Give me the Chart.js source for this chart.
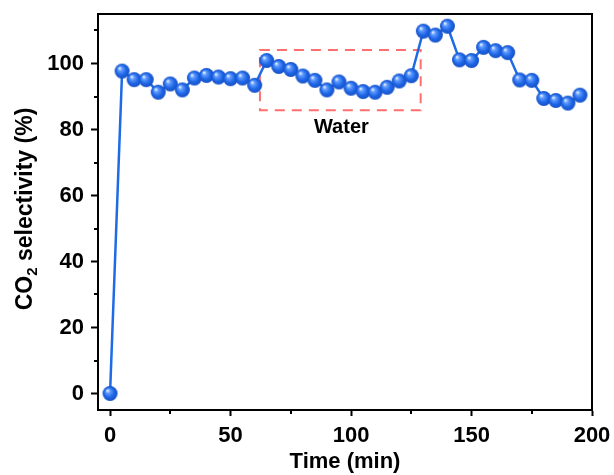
<!DOCTYPE html>
<html>
<head>
<meta charset="utf-8">
<script src="https://cdn.jsdelivr.net/npm/chart.js@4.4.1/dist/chart.umd.min.js"></script>
<style>
    html, body { margin: 0; padding: 0; background: #fff; }
    canvas { display: block; }
</style>
</head>
<body>
<canvas id="selectivityChart" width="614" height="475"></canvas>
<script>
// ---- data ----
const timeMin = [0, 5, 10, 15, 20, 25, 30, 35, 40, 45, 50, 55, 60, 65, 70, 75, 80, 85, 90, 95,
                 100, 105, 110, 115, 120, 125, 130, 135, 140, 145, 150, 155, 160, 165, 170, 175, 180, 185, 190, 195];
const selectivity = [0, 97.7, 95.1, 95.1, 91.3, 93.8, 92.0, 95.6, 96.4, 95.9, 95.4, 95.6, 93.4, 100.9, 99.1, 98.2, 96.2, 94.9, 92.0, 94.4,
                     92.5, 91.5, 91.3, 92.8, 94.7, 96.3, 109.8, 108.6, 111.3, 101.1, 100.9, 104.9, 103.9, 103.3, 95.0, 94.9, 89.4, 88.8, 88.0, 90.4];

const xTicks = [0, 50, 100, 150, 200];
const xMinorTicks = [25, 75, 125, 175];
const yTicks = [0, 20, 40, 60, 80, 100];
const yMinorTicks = [10, 30, 50, 70, 90, 110];

// dashed "Water" window
const waterBoxX = [62.2, 128.9];
const waterBoxY = [85.8, 104.1];
const waterLabel = 'Water';
const waterLabelAt = [96, 80.7];

const FONT = 'Arial, "Liberation Sans", sans-serif';

// shaded blue sphere used as marker
function makeSphere(r) {
    const c = document.createElement('canvas');
    c.width = c.height = r * 2 + 2;
    const g = c.getContext('2d');
    const cx = r + 1, cy = r + 1;
    const grad = g.createRadialGradient(cx - r * 0.35, cy - r * 0.4, r * 0.05, cx, cy, r);
    grad.addColorStop(0, '#e6f0ff');
    grad.addColorStop(0.25, '#5f9bff');
    grad.addColorStop(0.65, '#1f66e6');
    grad.addColorStop(1, '#1650c4');
    g.fillStyle = grad;
    g.beginPath();
    g.arc(cx, cy, r, 0, Math.PI * 2);
    g.fill();
    return c;
}

// keep the plot box fixed, whatever the label sizes ask for
function noPad(s) {
    s.paddingTop = 0; s.paddingBottom = 0; s.paddingLeft = 0; s.paddingRight = 0;
}

const frameAndExtras = {
    id: 'frameAndExtras',
    beforeDatasetsDraw(chart) {
        const { ctx, scales: { x, y } } = chart;
        ctx.save();
        ctx.strokeStyle = '#ff6f6f';
        ctx.lineWidth = 2;
        ctx.setLineDash([10, 7]);
        const l = x.getPixelForValue(waterBoxX[0]), r = x.getPixelForValue(waterBoxX[1]);
        const t = y.getPixelForValue(waterBoxY[1]), b = y.getPixelForValue(waterBoxY[0]);
        ctx.strokeRect(l, t, r - l, b - t);
        ctx.restore();
    },
    afterDraw(chart) {
        const { ctx, chartArea: a, scales: { x, y } } = chart;
        ctx.save();
        // box frame
        ctx.strokeStyle = '#000';
        ctx.lineWidth = 2;
        ctx.strokeRect(a.left, a.top, a.right - a.left, a.bottom - a.top);
        // minor ticks
        ctx.beginPath();
        xMinorTicks.forEach(v => {
            const px = Math.round(x.getPixelForValue(v));
            ctx.moveTo(px, a.bottom); ctx.lineTo(px, a.bottom + 4);
        });
        yMinorTicks.forEach(v => {
            const py = Math.round(y.getPixelForValue(v));
            ctx.moveTo(a.left, py); ctx.lineTo(a.left - 4, py);
        });
        ctx.stroke();

        // Water label
        ctx.fillStyle = '#000';
        ctx.font = 'bold 20px ' + FONT;
        ctx.textAlign = 'center';
        ctx.textBaseline = 'middle';
        ctx.fillText(waterLabel, x.getPixelForValue(waterLabelAt[0]), y.getPixelForValue(waterLabelAt[1]));

        // y title with subscript
        ctx.translate(26, (a.top + a.bottom) / 2 - 3);
        ctx.rotate(-Math.PI / 2);
        const main = 'CO', sub = '2', rest = ' selectivity (%)';
        const big = 'bold 23px ' + FONT, small = 'bold 15px ' + FONT;
        ctx.font = big;
        const wMain = ctx.measureText(main).width, wRest = ctx.measureText(rest).width;
        ctx.font = small;
        const wSub = ctx.measureText(sub).width;
        let sx = -(wMain + wSub + wRest) / 2;
        ctx.textAlign = 'left';
        ctx.font = big;
        ctx.fillText(main, sx, 0);
        sx += wMain;
        ctx.font = small;
        ctx.fillText(sub, sx, 7);
        sx += wSub;
        ctx.font = big;
        ctx.fillText(rest, sx, 0);
        ctx.restore();
    }
};

new Chart(document.getElementById('selectivityChart'), {
    type: 'scatter',
    data: {
        datasets: [{
            data: timeMin.map((t, i) => ({ x: t, y: selectivity[i] })),
            showLine: true,
            borderColor: '#1f6be6',
            borderWidth: 2.5,
            pointStyle: makeSphere(7.5),
            pointRadius: 7.5,
            pointHoverRadius: 7.5,
            clip: false
        }]
    },
    options: {
        responsive: false,
        devicePixelRatio: 1,
        animation: false,
        events: [],
        layout: { padding: { top: 14, right: 22, left: 0, bottom: 0 } },
        plugins: { legend: { display: false }, tooltip: { enabled: false } },
        scales: {
            x: {
                type: 'linear',
                min: -5,
                max: 200,
                afterFit: s => { s.height = 65; noPad(s); },
                afterBuildTicks: s => { s.ticks = xTicks.map(v => ({ value: v })); },
                grid: { drawOnChartArea: false, drawTicks: true, tickLength: 6, tickWidth: 2, tickColor: '#000' },
                border: { color: '#000', width: 2 },
                ticks: { color: '#000', font: { family: FONT, size: 22, weight: 'bold' }, padding: 7, maxRotation: 0 },
                title: { display: true, text: 'Time (min)', color: '#000', font: { family: FONT, size: 22, weight: 'bold' }, padding: 0 }
            },
            y: {
                type: 'linear',
                min: -5,
                max: 115,
                afterFit: s => { s.width = 98; noPad(s); },
                afterBuildTicks: s => { s.ticks = yTicks.map(v => ({ value: v })); },
                grid: { drawOnChartArea: false, drawTicks: true, tickLength: 7, tickWidth: 2, tickColor: '#000' },
                border: { color: '#000', width: 2 },
                ticks: { color: '#000', font: { family: FONT, size: 22, weight: 'bold' }, padding: 7 }
            }
        }
    },
    plugins: [frameAndExtras]
});
</script>
</body>
</html>
